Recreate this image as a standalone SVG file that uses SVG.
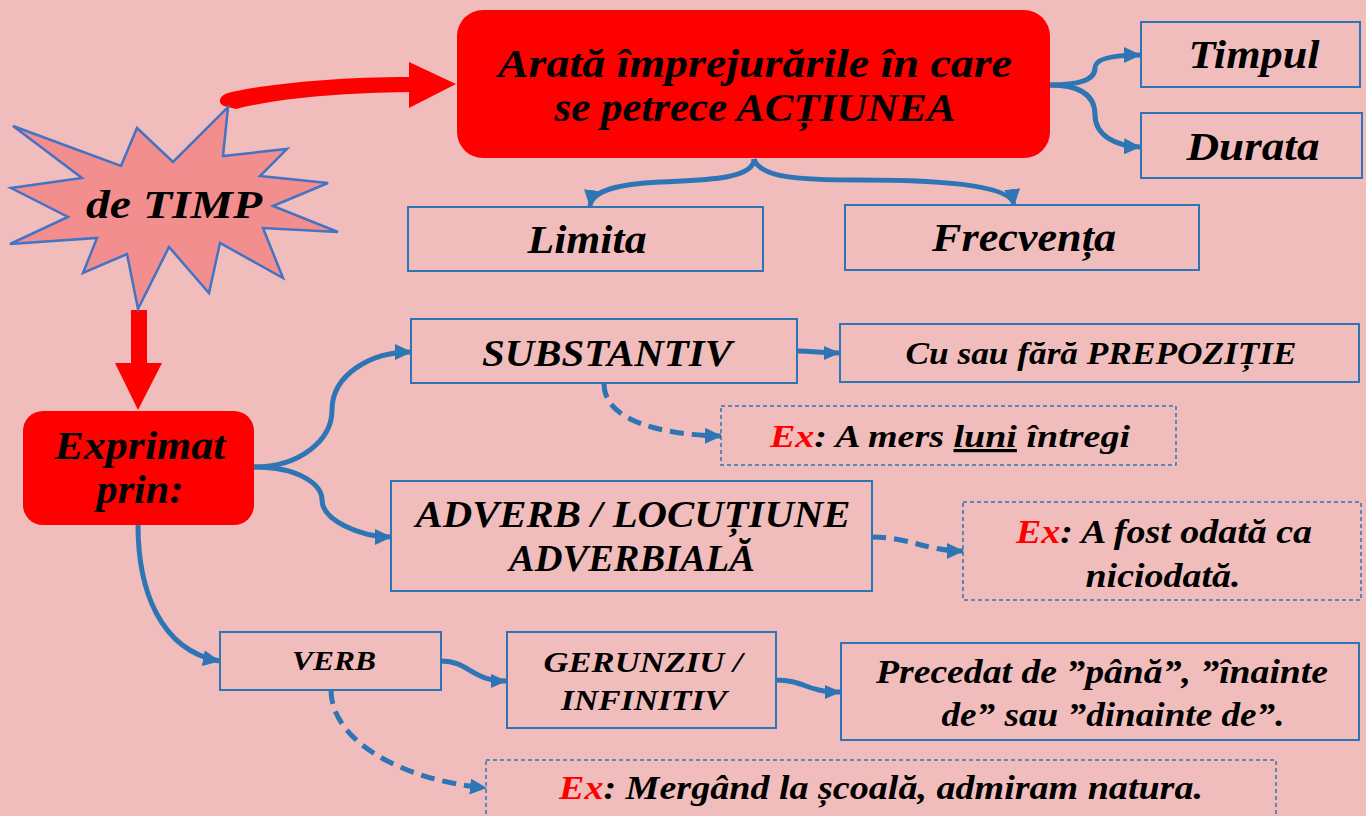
<svg xmlns="http://www.w3.org/2000/svg" width="1366" height="816" viewBox="0 0 1366 816">
<defs>
<marker id="ah" markerUnits="userSpaceOnUse" markerWidth="18" markerHeight="16" refX="16" refY="8" orient="auto">
<path d="M0,0 L17,8 L0,16 Z" fill="#2E75B6"/>
</marker>
<marker id="ahs" markerUnits="userSpaceOnUse" markerWidth="18" markerHeight="16" refX="16" refY="8" orient="auto">
<path d="M0,1 L16,8 L0,15 Z" fill="#2E75B6"/>
</marker>
</defs>
<style>
text{font-family:"Liberation Serif","DejaVu Serif",serif;font-weight:bold;font-style:italic;fill:#000;text-anchor:middle}
.box{fill:none;stroke:#2E75B6;stroke-width:2}
.dbox{fill:none;stroke:#2E75B6;stroke-width:1.5;stroke-dasharray:4 3}
.red{fill:#FF0000}
.c{fill:none;stroke:#2E75B6;stroke-width:5}
.d{fill:none;stroke:#2E75B6;stroke-width:5;stroke-dasharray:14 8}
.ex{fill:#FF0000}
</style>
<rect width="1366" height="816" fill="#F0BDBC"/>

<g id="connectors">
<path d="M236,109 C280,98 340,93 410,92 L410,77 C330,77 260,85 228,93 C218,96 218,104 224,106 Z" fill="#FF0000"/>
<path d="M409,62 L456,84 L409,108 Z" fill="#FF0000"/>
<rect x="131" y="310" width="16" height="54" fill="#FF0000"/>
<path d="M115,363 L162,363 L138,410 Z" fill="#FF0000"/>
<path class="c" d="M1050,85 C1080,85 1095,80 1095,68 C1095,58 1115,55 1140,55" marker-end="url(#ah)"/>
<path class="c" d="M1050,85 C1080,85 1095,95 1095,115 C1095,135 1115,146 1140,147" marker-end="url(#ah)"/>
<path class="c" d="M754,159 C754,180 700,180 660,182 C620,184 592,190 590,206" marker-end="url(#ah)"/>
<path class="c" d="M754,159 C760,178 800,180 860,180 C960,180 1012,188 1014,205" marker-end="url(#ah)"/>
<path class="c" d="M254,467 C300,467 332,440 332,410 C332,375 370,352 411,352" marker-end="url(#ah)"/>
<path class="c" d="M254,467 C300,467 322,485 322,500 C322,520 360,537 391,537" marker-end="url(#ah)"/>
<path class="c" d="M138,525 C138,590 160,650 219,661" marker-end="url(#ah)"/>
<path class="c" d="M797,351 C815,351 820,353 840,353" marker-end="url(#ahs)"/>
<path class="d" d="M604,384 C604,420 660,435 721,436" marker-end="url(#ah)"/>
<path class="d" d="M872,537 C910,537 925,551 963,551" marker-end="url(#ah)"/>
<path class="c" d="M441,661 C470,661 470,681 507,681" marker-end="url(#ahs)"/>
<path class="c" d="M776,680 C805,680 805,692 841,692" marker-end="url(#ahs)"/>
<path class="d" d="M331,690 C331,740 400,780 486,788" marker-end="url(#ah)"/>
</g>

<g id="star">
<polygon points="13,126 121,166 137,128 173,162 228,107 223,156 287,149 260,176 328,183 273,206 338,232 263,228 283,278 220,243 209,293 169,247 138,309 127,254 83,273 97,238 10,244 68,217 11,188 82,178" fill="#F28E8E" stroke="#4472C4" stroke-width="2.5" stroke-linejoin="miter"/>
<text x="174" y="218" font-size="40" textLength="176" lengthAdjust="spacingAndGlyphs">de TIMP</text>
</g>

<g id="n-main">
<rect x="457" y="10" width="593" height="148" rx="26" class="red"/>
<text x="755" y="77" font-size="40" textLength="514" lengthAdjust="spacingAndGlyphs">Arată împrejurările în care</text>
<text x="755" y="121" font-size="40" textLength="401" lengthAdjust="spacingAndGlyphs">se petrece ACȚIUNEA</text>
</g>

<g id="n-timpul">
<rect x="1141" y="22" width="219" height="65" class="box"/>
<text x="1254" y="68" font-size="39" textLength="131" lengthAdjust="spacingAndGlyphs">Timpul</text>
</g>
<g id="n-durata">
<rect x="1141" y="113" width="221" height="65" class="box"/>
<text x="1253" y="160" font-size="39" textLength="133" lengthAdjust="spacingAndGlyphs">Durata</text>
</g>
<g id="n-limita">
<rect x="408" y="207" width="355" height="64" class="box"/>
<text x="587" y="253" font-size="39" textLength="119" lengthAdjust="spacingAndGlyphs">Limita</text>
</g>
<g id="n-frecventa">
<rect x="845" y="205" width="354" height="65" class="box"/>
<text x="1024" y="251" font-size="39" textLength="184" lengthAdjust="spacingAndGlyphs">Frecvența</text>
</g>

<g id="n-exprimat">
<rect x="23" y="411" width="231" height="114" rx="20" class="red"/>
<text x="140" y="459" font-size="39" textLength="171" lengthAdjust="spacingAndGlyphs">Exprimat</text>
<text x="140" y="503" font-size="39" textLength="87" lengthAdjust="spacingAndGlyphs">prin:</text>
</g>

<g id="n-substantiv">
<rect x="411" y="319" width="386" height="64" class="box"/>
<text x="607" y="366" font-size="37" textLength="250" lengthAdjust="spacingAndGlyphs">SUBSTANTIV</text>
</g>
<g id="n-prepozitie">
<rect x="840" y="324" width="519" height="58" class="box"/>
<text x="1101" y="364" font-size="32" textLength="391" lengthAdjust="spacingAndGlyphs">Cu sau fără PREPOZIȚIE</text>
</g>
<g id="n-ex1">
<rect x="721" y="406" width="455" height="59" class="dbox"/>
<text x="950" y="447" font-size="32" textLength="360" lengthAdjust="spacingAndGlyphs"><tspan class="ex">Ex</tspan>: A mers <tspan text-decoration="underline">luni</tspan> întregi</text>
</g>

<g id="n-adverb">
<rect x="391" y="481" width="481" height="110" class="box"/>
<text x="633" y="527" font-size="38" textLength="435" lengthAdjust="spacingAndGlyphs">ADVERB / LOCUȚIUNE</text>
<text x="632" y="571" font-size="38" textLength="246" lengthAdjust="spacingAndGlyphs">ADVERBIALĂ</text>
</g>
<g id="n-ex2">
<rect x="963" y="502" width="398" height="98" class="dbox"/>
<text x="1164" y="543" font-size="34" textLength="296" lengthAdjust="spacingAndGlyphs"><tspan class="ex">Ex</tspan>: A fost odată ca</text>
<text x="1163" y="587" font-size="34" textLength="155" lengthAdjust="spacingAndGlyphs">niciodată.</text>
</g>

<g id="n-verb">
<rect x="220" y="632" width="221" height="58" class="box"/>
<text x="334" y="670" font-size="28" textLength="84" lengthAdjust="spacingAndGlyphs">VERB</text>
</g>
<g id="n-gerunziu">
<rect x="507" y="632" width="269" height="96" class="box"/>
<text x="643" y="672" font-size="30" textLength="199" lengthAdjust="spacingAndGlyphs">GERUNZIU /</text>
<text x="644" y="710" font-size="30" textLength="166" lengthAdjust="spacingAndGlyphs">INFINITIV</text>
</g>
<g id="n-precedat">
<rect x="841" y="643" width="518" height="97" class="box"/>
<text x="1102" y="683" font-size="34" textLength="452" lengthAdjust="spacingAndGlyphs">Precedat de ”până”, ”înainte</text>
<text x="1113" y="726" font-size="34" textLength="343" lengthAdjust="spacingAndGlyphs">de” sau ”dinainte de”.</text>
</g>
<g id="n-ex3">
<rect x="486" y="760" width="790" height="70" class="dbox"/>
<text x="881" y="799" font-size="34" textLength="644" lengthAdjust="spacingAndGlyphs"><tspan class="ex">Ex</tspan>: Mergând la școală, admiram natura.</text>
</g>
</svg>
